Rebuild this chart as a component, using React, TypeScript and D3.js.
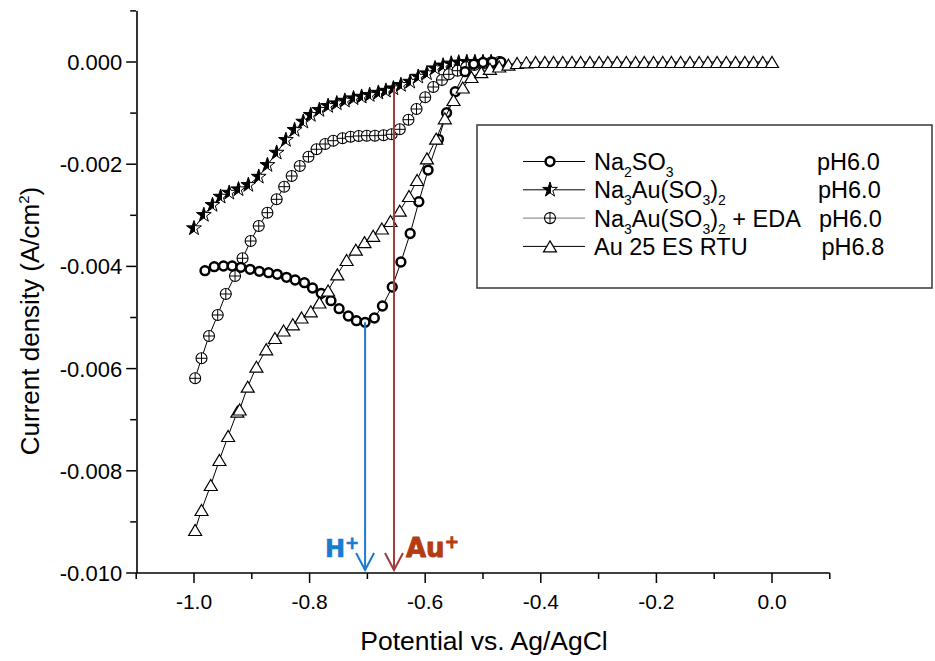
import React from "react";
import * as d3 from "d3";

// Potential (V vs. Ag/AgCl) and current density (A/cm²) for each bath
const na2so3Potential = [-0.981, -0.965, -0.949, -0.934, -0.919, -0.903, -0.887, -0.871, -0.856, -0.840, -0.825, -0.809, -0.795, -0.780, -0.763, -0.749, -0.733, -0.719, -0.704, -0.688, -0.674, -0.657, -0.642, -0.626, -0.611, -0.595, -0.577, -0.563, -0.548, -0.531, -0.516, -0.500, -0.484, -0.469];
const na2so3Current = [-0.004084, -0.004006, -0.003992, -0.003992, -0.004018, -0.004057, -0.004096, -0.004123, -0.004155, -0.004213, -0.004266, -0.004319, -0.004423, -0.004526, -0.004671, -0.004828, -0.004971, -0.005063, -0.005094, -0.005010, -0.004775, -0.004403, -0.003914, -0.003356, -0.002734, -0.002114, -0.001513, -0.000992, -0.000581, -0.000190, -0.000040, -0.000010, -0.000003, 0];

const auSulfitePotential = [-1.000, -0.983, -0.968, -0.954, -0.939, -0.923, -0.906, -0.888, -0.873, -0.857, -0.841, -0.826, -0.811, -0.798, -0.783, -0.768, -0.753, -0.739, -0.724, -0.710, -0.696, -0.681, -0.668, -0.655, -0.642, -0.626, -0.612, -0.597, -0.583, -0.569, -0.555, -0.542, -0.528, -0.514, -0.500, -0.486];
const auSulfiteCurrent = [-0.003254, -0.002994, -0.002798, -0.002636, -0.002558, -0.002491, -0.002407, -0.002245, -0.002016, -0.001775, -0.001526, -0.001331, -0.001168, -0.001037, -0.000939, -0.000861, -0.000808, -0.000757, -0.000710, -0.000679, -0.000646, -0.000601, -0.000562, -0.000515, -0.000450, -0.000386, -0.000288, -0.000221, -0.000123, -0.000068, -0.000030, -0.000010, 0, 0, 0, 0];

const edaPotential = [-0.998, -0.987, -0.974, -0.959, -0.945, -0.929, -0.916, -0.902, -0.888, -0.873, -0.857, -0.844, -0.831, -0.817, -0.802, -0.788, -0.773, -0.759, -0.743, -0.729, -0.715, -0.701, -0.687, -0.672, -0.658, -0.644, -0.629, -0.615, -0.600, -0.586, -0.571, -0.559, -0.544, -0.529, -0.515, -0.500, -0.486, -0.472];
const edaCurrent = [-0.006190, -0.005798, -0.005362, -0.004951, -0.004540, -0.004188, -0.003841, -0.003503, -0.003209, -0.002949, -0.002687, -0.002440, -0.002231, -0.002035, -0.001853, -0.001708, -0.001605, -0.001540, -0.001493, -0.001462, -0.001448, -0.001442, -0.001442, -0.001434, -0.001415, -0.001317, -0.001129, -0.000920, -0.000689, -0.000489, -0.000352, -0.000241, -0.000170, -0.000104, -0.000059, -0.000029, -0.000010, 0];

const rtuPotential = [-0.998, -0.987, -0.971, -0.956, -0.941, -0.925, -0.921, -0.907, -0.892, -0.875, -0.860, -0.845, -0.829, -0.814, -0.798, -0.783, -0.768, -0.752, -0.736, -0.720, -0.705, -0.690, -0.675, -0.660, -0.644, -0.628, -0.614, -0.597, -0.581, -0.566, -0.551, -0.535, -0.520, -0.503, -0.488, -0.472, -0.456, -0.441, -0.425, -0.409, -0.393, -0.378, -0.362, -0.346, -0.331, -0.315, -0.299, -0.284, -0.268, -0.252, -0.236, -0.221, -0.205, -0.189, -0.174, -0.158, -0.142, -0.126, -0.111, -0.095, -0.079, -0.063, -0.047, -0.032, -0.016, 0.000];
const rtuCurrent = [-0.009159, -0.008767, -0.008278, -0.007789, -0.007319, -0.006843, -0.006800, -0.006354, -0.005963, -0.005622, -0.005401, -0.005254, -0.005133, -0.005000, -0.004879, -0.004706, -0.004472, -0.004155, -0.003875, -0.003673, -0.003526, -0.003401, -0.003258, -0.003112, -0.002910, -0.002622, -0.002309, -0.001885, -0.001501, -0.001102, -0.000744, -0.000499, -0.000294, -0.000200, -0.000133, -0.000088, -0.000053, -0.000020, -0.000006, 0, 0, 0, 0, 0, 0, 0, 0, 0, 0, 0, 0, 0, 0, 0, 0, 0, 0, 0, 0, 0, 0, 0, 0, 0, 0, 0];

// Axis ticks
const xMajorTicks = [-1.0, -0.8, -0.6, -0.4, -0.2, 0.0];
const xMinorTicks = [-1.1, -0.9, -0.7, -0.5, -0.3, -0.1, 0.1];
const yMajorTicks = [0, -0.002, -0.004, -0.006, -0.008, -0.010];
const yMinorTicks = [0.001, -0.001, -0.003, -0.005, -0.007, -0.009];

// Reduction onsets marked with arrows
const hOnset = { potential: -0.704, current: -0.005094 };
const auOnset = { potential: -0.654, current: -0.000520 };

const legendPh = ["pH6.0", "pH6.0", "pH6.0", "pH6.8"];

const FONT = "'Liberation Sans', Arial, Helvetica, sans-serif";
const BOLD_FONT = "'DejaVu Sans', 'Liberation Sans', Arial, sans-serif";

const x = d3.scaleLinear().domain([-1.1, 0.1]).range([136.2, 829.8]);
const y = d3.scaleLinear().domain([-0.010, 0.001]).range([573, 10.9]);

type Pt = [number, number];
const zip = (a: number[], b: number[]): Pt[] => a.map((v, i) => [v, b[i]] as Pt);

const lineGen = d3
  .line<Pt>()
  .x((d) => x(d[0]))
  .y((d) => y(d[1]));

const starPath = d3.symbol().type(d3.symbolStar).size(68)() as string;
const TRI_W = 13;
const TRI_H = 11;
const triPath = `M0,${-TRI_H / 2}L${TRI_W / 2},${TRI_H / 2}L${-TRI_W / 2},${TRI_H / 2}Z`;

function CircleMark({ cx, cy }: { cx: number; cy: number }) {
  return <circle cx={cx} cy={cy} r={4.4} fill="#fff" stroke="#000" strokeWidth={2.5} />;
}

function StarMark({ cx, cy }: { cx: number; cy: number }) {
  return (
    <path
      d={starPath}
      transform={`translate(${cx},${cy})`}
      fill="url(#halfStar)"
      stroke="#000"
      strokeWidth={1}
      strokeLinejoin="miter"
    />
  );
}

function CrossCircleMark({ cx, cy }: { cx: number; cy: number }) {
  const r = 5.5;
  return (
    <g>
      <circle cx={cx} cy={cy} r={r} fill="#fff" stroke="#000" strokeWidth={1.1} />
      <line x1={cx - r} x2={cx + r} y1={cy} y2={cy} stroke="#000" strokeWidth={1} />
      <line x1={cx} x2={cx} y1={cy - r} y2={cy + r} stroke="#000" strokeWidth={1} />
    </g>
  );
}

function TriangleMark({ cx, cy }: { cx: number; cy: number }) {
  return (
    <path
      d={triPath}
      transform={`translate(${cx},${cy})`}
      fill="#fff"
      stroke="#000"
      strokeWidth={1.2}
      strokeLinejoin="miter"
    />
  );
}

type MarkComp = (p: { cx: number; cy: number }) => React.ReactElement;

function Series({ data, Mark }: { data: Pt[]; Mark: MarkComp }) {
  return (
    <g>
      <path d={lineGen(data) as string} fill="none" stroke="#000" strokeWidth={1} />
      {data.map((d, i) => (
        <Mark key={i} cx={x(d[0])} cy={y(d[1])} />
      ))}
    </g>
  );
}

function OnsetArrow({ potential, current, color }: { potential: number; current: number; color: string }) {
  const px = x(potential);
  const top = y(current);
  const tip = 570;
  return (
    <g stroke={color} strokeWidth={2} fill="none">
      <line x1={px} x2={px} y1={top} y2={tip} />
      <polyline points={`${px - 9},${tip - 17} ${px},${tip} ${px + 9},${tip - 17}`} strokeLinejoin="miter" />
    </g>
  );
}

export default function App() {
  const na2so3 = zip(na2so3Potential, na2so3Current);
  const auSulfite = zip(auSulfitePotential, auSulfiteCurrent);
  const eda = zip(edaPotential, edaCurrent);
  const rtu = zip(rtuPotential, rtuCurrent);

  const axisY = 573;
  const axisX = x(-1.1);

  const legendX0 = 523;
  const legendX1 = 585;
  const legendMarkX = 550;
  const legendTextX = 594;
  const legendBase = [170, 198.3, 226.6, 254.9];
  const legendPhX = [817, 818, 819, 821.5];
  const marks: MarkComp[] = [CircleMark, StarMark, CrossCircleMark, TriangleMark];
  const legendLineColor = ["#000", "#000", "#777", "#000"];

  return (
    <svg
      width={935}
      height={661}
      viewBox="0 0 935 661"
      style={{ position: "absolute", left: 0, top: 0, background: "#fff" }}
      fontFamily={FONT}
    >
      <defs>
        <linearGradient id="halfStar" x1="0" x2="1" y1="0" y2="0">
          <stop offset="0" stopColor="#000" />
          <stop offset="0.58" stopColor="#000" />
          <stop offset="0.58" stopColor="#fff" />
          <stop offset="1" stopColor="#fff" />
        </linearGradient>
      </defs>
      <rect x={0} y={0} width={935} height={661} fill="#fff" />

      {/* series */}
      <Series data={auSulfite} Mark={StarMark} />
      <Series data={eda} Mark={CrossCircleMark} />
      <Series data={na2so3} Mark={CircleMark} />
      <Series data={rtu} Mark={TriangleMark} />

      {/* onset arrows */}
      <OnsetArrow potential={hOnset.potential} current={hOnset.current} color="#1a7bd2" />
      <OnsetArrow potential={auOnset.potential} current={auOnset.current} color="#a33a3c" />

      <text x={325} y={556.7} fontFamily={BOLD_FONT} fontWeight="bold" fontSize={24} fill="#1a7bd2" stroke="#1a7bd2" strokeWidth={0.6}>
        H
        <tspan fontSize={17} dy={-8}>+</tspan>
      </text>
      <text x={406} y={556.7} fontFamily={BOLD_FONT} fontWeight="bold" fontSize={26} fill="#b33c10" stroke="#b33c10" strokeWidth={0.9}>
        Au
        <tspan fontSize={17} dy={-9}>+</tspan>
      </text>

      {/* y axis */}
      <line x1={axisX + 0.8} x2={axisX + 0.8} y1={y(0.001)} y2={axisY} stroke="#000" strokeWidth={1.6} />
      {yMajorTicks.map((t) => (
        <g key={`ym${t}`}>
          <line x1={axisX - 10} x2={axisX} y1={y(t)} y2={y(t)} stroke="#000" strokeWidth={1.5} />
          <text x={axisX - 14} y={y(t)} dy="0.36em" textAnchor="end" fontSize={22}>
            {t.toFixed(3)}
          </text>
        </g>
      ))}
      {yMinorTicks.map((t) => (
        <line key={`yn${t}`} x1={axisX - 6} x2={axisX} y1={y(t)} y2={y(t)} stroke="#000" strokeWidth={1.5} />
      ))}

      {/* x axis */}
      <line x1={axisX} x2={x(0.1)} y1={axisY} y2={axisY} stroke="#000" strokeWidth={1.6} />
      {xMajorTicks.map((t) => (
        <g key={`xm${t}`}>
          <line x1={x(t)} x2={x(t)} y1={axisY} y2={axisY + 10} stroke="#000" strokeWidth={1.5} />
          <text x={x(t)} y={609} textAnchor="middle" fontSize={21}>
            {t.toFixed(1)}
          </text>
        </g>
      ))}
      {xMinorTicks.map((t) => (
        <line key={`xn${t}`} x1={x(t)} x2={x(t)} y1={axisY} y2={axisY + 6} stroke="#000" strokeWidth={1.5} />
      ))}

      {/* axis titles */}
      <text x={484} y={650} textAnchor="middle" fontSize={26.5}>
        Potential vs. Ag/AgCl
      </text>
      <text transform="translate(39,321) rotate(-90)" textAnchor="middle" fontSize={26}>
        Current density (A/cm<tspan fontSize={15} dy={-10}>2</tspan>
        <tspan dy={10}>)</tspan>
      </text>

      {/* legend */}
      <rect x={477} y={125} width={455} height={163} fill="#fff" stroke="#444" strokeWidth={1.6} />
      {legendBase.map((b, i) => {
        const Mark = marks[i];
        const cy = b - 8.5;
        return (
          <g key={`lg${i}`}>
            <line x1={legendX0} x2={legendX1} y1={cy} y2={cy} stroke={legendLineColor[i]} strokeWidth={1} />
            <Mark cx={legendMarkX} cy={cy} />
            <text x={legendPhX[i]} y={b} fontSize={23.5}>
              {legendPh[i]}
            </text>
          </g>
        );
      })}
      <text x={legendTextX} y={legendBase[0]} fontSize={23.5}>
        Na<tspan fontSize={14} dy={7}>2</tspan>
        <tspan dy={-7}>SO</tspan>
        <tspan fontSize={14} dy={7}>3</tspan>
      </text>
      <text x={legendTextX} y={legendBase[1]} fontSize={23.5}>
        Na<tspan fontSize={14} dy={7}>3</tspan>
        <tspan dy={-7}>Au(SO</tspan>
        <tspan fontSize={14} dy={7}>3</tspan>
        <tspan dy={-7}>)</tspan>
        <tspan fontSize={14} dy={7}>2</tspan>
      </text>
      <text x={legendTextX} y={legendBase[2]} fontSize={23.5}>
        Na<tspan fontSize={14} dy={7}>3</tspan>
        <tspan dy={-7}>Au(SO</tspan>
        <tspan fontSize={14} dy={7}>3</tspan>
        <tspan dy={-7}>)</tspan>
        <tspan fontSize={14} dy={7}>2</tspan>
        <tspan dy={-7}> + EDA</tspan>
      </text>
      <text x={legendTextX} y={legendBase[3]} fontSize={23.5}>
        Au 25 ES RTU
      </text>
    </svg>
  );
}
